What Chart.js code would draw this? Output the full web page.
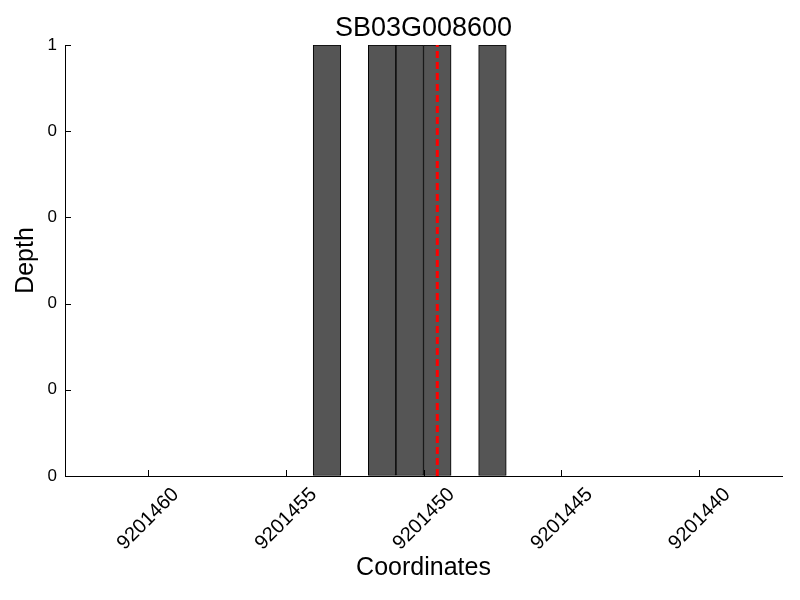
<!DOCTYPE html>
<html>
<head>
<meta charset="utf-8">
<script src="https://cdn.jsdelivr.net/npm/chart.js@4/dist/chart.umd.min.js"></script>
<style>
  html, body { margin: 0; padding: 0; background: #fff; }
  canvas { display: block; }
</style>
</head>
<body>
<canvas id="c" width="800" height="600"></canvas>
<script>
// ---- data ----
const chartTitle = 'SB03G008600';
const xAxisLabel = 'Coordinates';
const yAxisLabel = 'Depth';
// bar start coordinates (each bar covers [start, start+1])
const barStarts = [9201453, 9201451, 9201450, 9201449, 9201447];
const barDepths = [1, 1, 1, 1, 1];
const barWidth = 1;
// red dashed marker position
const markerPosition = 9201449.5;
const markerRange = [0, 1];
// axis limits and ticks
const xMin = 9201437, xMax = 9201463;
const xTickValues = [9201440, 9201445, 9201450, 9201455, 9201460];
const xTickLabels = ['9201440', '9201445', '9201450', '9201455', '9201460'];
const yMin = 0, yMax = 1;
const yTickValues = [0, 0.2, 0.4, 0.6, 0.8, 1];
const yTickLabels = ['0', '0', '0', '0', '0', '1'];

const FONT = "'Liberation Sans', Arial, sans-serif";
Chart.defaults.color = '#000';
Chart.defaults.font.family = FONT;

// inward-pointing tick marks and title centred over the plot area
const axesDecor = {
  id: 'axesDecor',
  afterDatasetsDraw(chart) {
    const ctx = chart.ctx;
    const xs = chart.scales.x, ys = chart.scales.y;
    const area = chart.chartArea;
    ctx.save();
    ctx.strokeStyle = '#000';
    ctx.lineWidth = 1;
    ctx.beginPath();
    xs.ticks.forEach(t => {
      const px = Math.round(xs.getPixelForValue(t.value)) + 0.5;
      ctx.moveTo(px, area.bottom);
      ctx.lineTo(px, area.bottom - 6);
    });
    ys.ticks.forEach(t => {
      const py = Math.round(ys.getPixelForValue(t.value)) + 0.5;
      ctx.moveTo(area.left, py);
      ctx.lineTo(area.left + 6, py);
    });
    ctx.stroke();
    ctx.fillStyle = '#000';
    ctx.font = '27px ' + FONT;
    ctx.textAlign = 'center';
    ctx.textBaseline = 'alphabetic';
    ctx.fillText(chartTitle, (area.left + area.right) / 2, 36);
    ctx.restore();
  }
};

new Chart(document.getElementById('c'), {
  type: 'bar',
  data: {
    datasets: [
      {
        type: 'line',
        label: 'marker',
        data: markerRange.map(v => ({ x: markerPosition, y: v })),
        borderColor: '#ff0000',
        borderWidth: 3,
        borderDash: [7, 4],
        pointRadius: 0,
        fill: false,
        order: 0
      },
      {
        type: 'bar',
        label: 'depth',
        data: barStarts.map((s, i) => ({ x: s + barWidth / 2, y: barDepths[i] })),
        backgroundColor: '#555555',
        borderColor: '#000000',
        borderWidth: 1,
        borderSkipped: false,
        barPercentage: 1,
        categoryPercentage: 1,
        grouped: false,
        order: 1
      }
    ]
  },
  options: {
    responsive: false,
    animation: false,
    layout: { padding: { left: 0, right: 18, top: 45, bottom: 0 } },
    plugins: {
      legend: { display: false },
      tooltip: { enabled: false },
      title: { display: false }
    },
    scales: {
      x: {
        type: 'linear',
        reverse: true,
        min: xMin,
        max: xMax,
        offset: false,
        afterBuildTicks: (s) => { s.ticks = xTickValues.map(v => ({ value: v })); },
        afterFit: (s) => { s.height = 124; },
        grid: { display: true, drawOnChartArea: false, drawTicks: false },
        border: { display: true, color: '#000', width: 1 },
        ticks: {
          autoSkip: false,
          maxRotation: 45,
          minRotation: 45,
          padding: 7,
          labelOffset: 28,
          font: { family: FONT, size: 20 },
          color: '#000',
          callback: (v) => xTickLabels[xTickValues.indexOf(v)]
        },
        title: {
          display: true,
          text: xAxisLabel,
          color: '#000',
          font: { family: FONT, size: 25 },
          padding: { top: 0, bottom: 17 }
        }
      },
      y: {
        min: yMin,
        max: yMax,
        afterBuildTicks: (s) => { s.ticks = yTickValues.map(v => ({ value: v })); },
        afterFit: (s) => { s.width = 65; },
        grid: { display: true, drawOnChartArea: false, drawTicks: false },
        border: { display: true, color: '#000', width: 1 },
        ticks: {
          padding: 8,
          font: { family: FONT, size: 17 },
          color: '#000',
          callback: (v) => yTickLabels[yTickValues.indexOf(v)]
        },
        title: {
          display: true,
          text: yAxisLabel,
          color: '#000',
          font: { family: FONT, size: 25 },
          padding: { top: 11, bottom: 0 }
        }
      }
    }
  },
  plugins: [axesDecor]
});
</script>
</body>
</html>
